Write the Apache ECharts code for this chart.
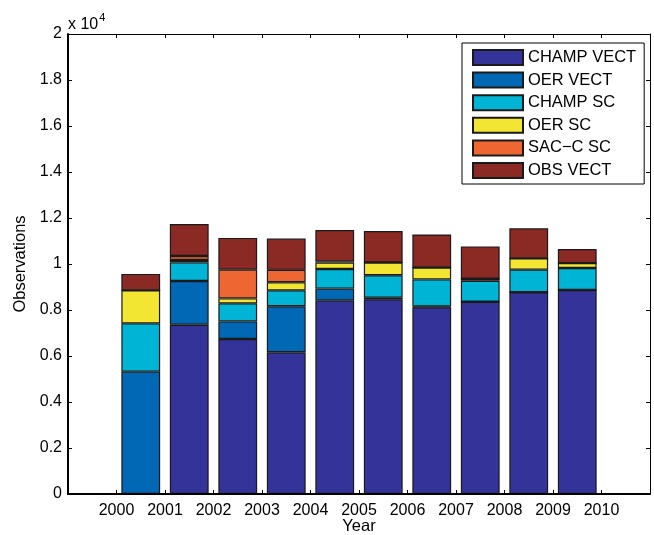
<!DOCTYPE html>
<html>
<head>
<meta charset="utf-8">
<script src="https://cdn.jsdelivr.net/npm/echarts@6/dist/echarts.min.js"></script>
<style>
html,body{margin:0;padding:0;background:#fff;}
#chart{width:654px;height:535px;}
</style>
</head>
<body>
<div id="chart"></div>
<script>
// Year slots (each bar covers the interval [year, year+1])
const years = ['1999', '2000', '2001', '2002', '2003', '2004', '2005', '2006', '2007', '2008', '2009', '2010'];
const tickLabels = [2000, 2001, 2002, 2003, 2004, 2005, 2006, 2007, 2008, 2009, 2010];
const seriesNames = ['CHAMP VECT', 'OER VECT', 'CHAMP SC', 'OER SC', 'SAC\u2212C SC', 'OBS VECT'];
const champVect = [0, 0, 7360, 6740, 6160, 8420, 8470, 8120, 8360, 8770, 8870, 0];
const oerVect   = [0, 5320, 1900, 765, 2000, 510, 60, 35, 0, 0, 0, 0];
const champSC   = [0, 2100, 810, 785, 695, 855, 980, 1175, 915, 985, 955, 0];
const oerSC     = [0, 1435, 105, 215, 350, 275, 555, 520, 85, 490, 215, 0];
const sacSC     = [0, 0, 175, 1250, 540, 55, 0, 0, 0, 0, 0, 0];
const obsVect   = [0, 715, 1390, 1380, 1360, 1365, 1370, 1435, 1405, 1305, 610, 0];
const colors = ['#333399', '#0068b4', '#00b4d6', '#f2e632', '#ee6631', '#8b2a25'];

const allValues = [champVect, oerVect, champSC, oerSC, sacSC, obsVect];
const FONT = 'Liberation Sans, Arial, sans-serif';
const FS = 16;

const chart = echarts.init(document.getElementById('chart'), null, {renderer: 'canvas'});

const series = seriesNames.map((name, i) => ({
  name: name,
  type: 'bar',
  stack: 'total',
  xAxisIndex: 0,
  yAxisIndex: 0,
  barWidth: '80%',
  itemStyle: {color: colors[i], borderColor: '#1a1a1a', borderWidth: 1.2},
  emphasis: {disabled: true},
  data: allValues[i]
}));

const thickLine = {show: true, onZero: false, lineStyle: {color: '#000', width: 2}};
const thinLine = {show: true, onZero: false, lineStyle: {color: '#000', width: 1}};
const tick = {show: true, inside: true, length: 4, lineStyle: {color: '#000'}};
const valueX = {
  type: 'value', min: 1999, max: 2011, interval: 1,
  splitLine: {show: false}, axisTick: tick
};
const baseY = {
  type: 'value', min: 0, max: 20000, interval: 2000,
  splitLine: {show: false}, axisTick: tick
};

chart.setOption({
  animation: false,
  color: colors,
  grid: {left: 68, top: 34, right: 4, bottom: 41, containLabel: false, outerBoundsMode: 'none'},
  xAxis: [
    {
      type: 'category', data: years, position: 'bottom', boundaryGap: true,
      axisLine: thickLine, axisTick: {show: false}, axisLabel: {show: false},
      splitLine: {show: false}, z: 5
    },
    Object.assign({}, valueX, {
      position: 'bottom', axisLine: thickLine,
      axisLabel: {
        color: '#000', fontSize: FS, fontFamily: FONT, margin: 9,
        formatter: v => (tickLabels.indexOf(v) >= 0 ? String(v) : '')
      }
    }),
    Object.assign({}, valueX, {position: 'top', axisLine: thinLine, axisLabel: {show: false}})
  ],
  yAxis: [
    Object.assign({}, baseY, {
      position: 'left', axisLine: thickLine,
      name: 'Observations', nameLocation: 'middle', nameGap: 38, nameRotate: 90,
      nameTextStyle: {color: '#000', fontSize: 16.5, fontFamily: FONT},
      axisLabel: {
        color: '#000', fontSize: FS, fontFamily: FONT, margin: 6,
        formatter: v => String(parseFloat((v / 10000).toFixed(1)))
      }
    }),
    Object.assign({}, baseY, {position: 'right', axisLine: thinLine, axisLabel: {show: false}})
  ],
  legend: {
    orient: 'vertical',
    left: 462, top: 43,
    padding: [6, 8, 5, 10],
    itemWidth: 50, itemHeight: 15, itemGap: 5.6,
    borderColor: '#000', borderWidth: 1,
    icon: 'rect',
    textStyle: {color: '#000', fontSize: 16.5, lineHeight: 15, fontFamily: FONT},
    data: seriesNames,
    selectedMode: false
  },
  graphic: [{
    type: 'text', left: 68, top: 12,
    style: {
      text: '{a|x 10}{b|4}',
      rich: {
        a: {fontSize: FS, fontFamily: FONT, fill: '#000', verticalAlign: 'bottom'},
        b: {fontSize: 11, fontFamily: FONT, fill: '#000', verticalAlign: 'top', padding: [0, 0, 10, 1]}
      }
    }
  }, {
    type: 'text', x: 359, y: 526,
    style: {
      text: 'Year', fontSize: 16.5, fontFamily: FONT, fill: '#000',
      align: 'center', verticalAlign: 'middle'
    }
  }],
  series: series
});
</script>
</body>
</html>
